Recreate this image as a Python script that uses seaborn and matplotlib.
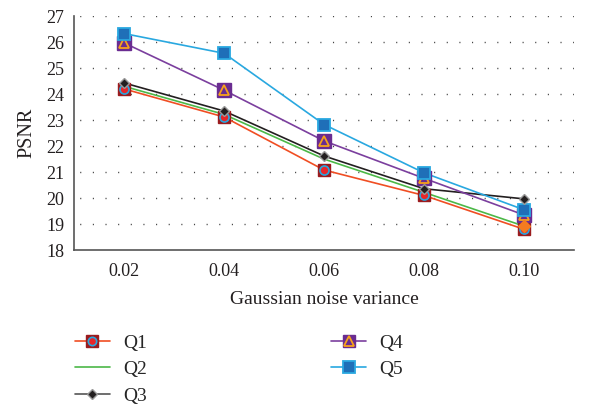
import matplotlib
matplotlib.use("Agg")
import matplotlib.pyplot as plt
from matplotlib.lines import Line2D
from matplotlib.legend_handler import HandlerTuple
import seaborn as sns
import pandas as pd

categories = ["0.02", "0.04", "0.06", "0.08", "0.10"]
q1 = [24.2, 23.12, 21.08, 20.1, 18.8]
q2 = [24.3, 23.22, 21.5, 20.22, 18.92]
q3 = [24.43, 23.35, 21.62, 20.36, 19.97]
q4 = [25.97, 24.15, 22.2, 20.76, 19.35]
q5 = [26.33, 25.57, 22.83, 20.97, 19.55]

sns.set_theme(style="white")
plt.rcParams['font.family'] = ['Liberation Serif', 'DejaVu Serif']

fig = plt.figure(figsize=(5.98, 4.04), dpi=100)
ax = fig.add_axes([0.124, 0.381, 0.836, 0.579])

df = pd.DataFrame({"x": categories * 5,
                   "y": q1 + q2 + q3 + q4 + q5,
                   "s": ["Q1"] * 5 + ["Q2"] * 5 + ["Q3"] * 5 + ["Q4"] * 5 + ["Q5"] * 5})

line_cols = {"Q1": "#f04e23", "Q2": "#4cb848", "Q3": "#231f20", "Q4": "#7b3f9e", "Q5": "#29a8e0"}
for s in ["Q1", "Q2", "Q3", "Q4", "Q5"]:
    sub = df[df.s == s]
    sns.lineplot(data=sub, x="x", y="y", color=line_cols[s], lw=1.2, ax=ax, sort=False,
                 zorder=2)

xs = list(range(len(categories)))
# Q1 markers
ax.plot(xs, q1, ls="none", marker="s", ms=9, mfc="#9b1b1e", mec="#9b1b1e", zorder=3)
ax.plot(xs, q1, ls="none", marker="o", ms=6.5, mfc="#e8262a", mec="#29a8e0", mew=1.2, zorder=4)
# Q2 final marker (orange)
ax.plot([xs[-1]], [q2[-1]], ls="none", marker="D", ms=6, mfc="#f47b20", mec="#f47b20", zorder=5)
# Q3 markers
ax.plot(xs, q3, ls="none", marker="D", ms=5, mfc="#231f20", mec="#9a9a9a", mew=1.0, zorder=5)
# Q4 markers
ax.plot(xs, q4, ls="none", marker="s", ms=10, mfc="#6a2c91", mec="#6a2c91", zorder=3)
ax.plot(xs, q4, ls="none", marker="^", ms=7, mfc="none", mec="#f7a21b", mew=1.3, zorder=4)
# Q5 markers
ax.plot(xs, q5, ls="none", marker="s", ms=9, mfc="#1f6fb8", mec="#29a8e0", mew=1.3, zorder=4)

ax.set_xlim(-0.5, 4.5)
ax.set_ylim(18, 27)
ax.set_yticks(range(18, 28))
ax.set_xticks(xs)
ax.set_xticklabels(categories)
ax.set_xticks([0.5, 1.5, 2.5, 3.5], minor=True)
ax.tick_params(axis="x", which="major", length=0, labelsize=13, pad=9.5, colors="#231f20")
ax.tick_params(axis="x", which="minor", length=5, direction="in", width=1.2, color="#444444")
ax.tick_params(axis="y", length=0, labelsize=13, pad=7, colors="#231f20")
ax.grid(False)
for yv in range(19, 28):
    ax.axhline(yv, color="#444444", lw=1.0, ls=(5, (0.8, 8.3)), zorder=1)

for sp in ["top", "right"]:
    ax.spines[sp].set_visible(False)
for sp in ["left", "bottom"]:
    ax.spines[sp].set_color("#555555")
    ax.spines[sp].set_linewidth(1.2)

ax.set_xlabel("Gaussian noise variance", fontsize=14, color="#231f20", labelpad=7.5)
ax.set_ylabel("PSNR", fontsize=14.5, color="#231f20", labelpad=7)

h1 = (Line2D([], [], color=line_cols["Q1"], lw=1.2),
      Line2D([], [], ls="none", marker="s", ms=8, mfc="#9b1b1e", mec="#9b1b1e"),
      Line2D([], [], ls="none", marker="o", ms=6, mfc="#e8262a", mec="#29a8e0", mew=1.2))
h2 = Line2D([], [], color=line_cols["Q2"], lw=1.2)
h3 = (Line2D([], [], color="#555555", lw=1.2),
      Line2D([], [], ls="none", marker="D", ms=5, mfc="#231f20", mec="#9a9a9a"))
h4 = (Line2D([], [], color=line_cols["Q4"], lw=1.2),
      Line2D([], [], ls="none", marker="s", ms=9, mfc="#6a2c91", mec="#6a2c91"),
      Line2D([], [], ls="none", marker="^", ms=6.5, mfc="none", mec="#f7a21b", mew=1.3))
h5 = (Line2D([], [], color=line_cols["Q5"], lw=1.2),
      Line2D([], [], ls="none", marker="s", ms=8, mfc="#1f6fb8", mec="#29a8e0", mew=1.3))

fig.legend([h1, h2, h3, h4, h5], ["Q1", "Q2", "Q3", "Q4", "Q5"],
           handler_map={tuple: HandlerTuple(ndivide=1)},
           loc="upper left", bbox_to_anchor=(0.112, 0.192), ncol=2, frameon=False,
           fontsize=14, handlelength=1.8, handletextpad=0.67, columnspacing=9.5,
           labelspacing=0.45, borderaxespad=0)

fig.savefig("out.png", dpi=100)
